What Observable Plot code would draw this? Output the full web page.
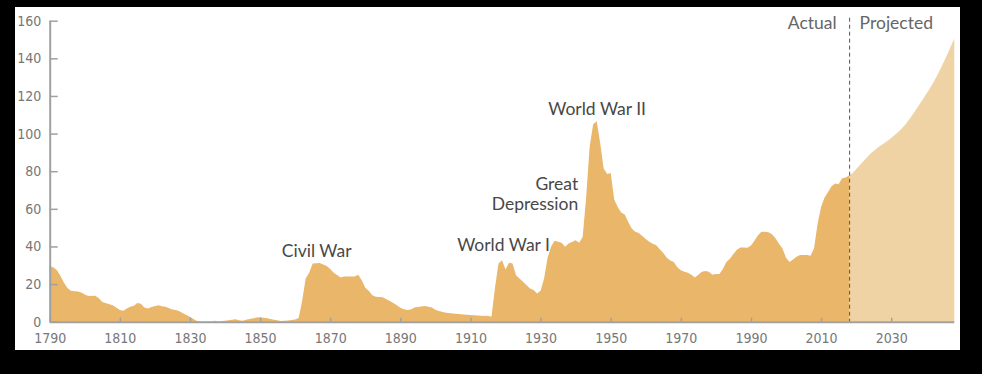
<!DOCTYPE html>
<html>
<head>
<meta charset="utf-8">
<script src="https://cdn.jsdelivr.net/npm/d3@7"></script>
<script src="https://cdn.jsdelivr.net/npm/@observablehq/plot@0.6"></script>
<style>
  html, body { margin: 0; padding: 0; background: #000; }
  #panel { position: absolute; left: 15px; top: 7px; width: 945px; height: 343px; background: #fff; }
</style>
</head>
<body>
<div id="panel"></div>
<script>
// Federal debt held by the public, % of GDP
const actualYears = [1790,1791,1792,1793,1794,1795,1796,1798,1799,1800,1801,1803,1804,1805,1807,1808,1810,1811,1812,1813,1814,1815,1816,1817,1818,1819,1821,1822,1823,1825,1826,1827,1828,1829,1830,1831,1832,1833,1836,1837,1838,1840,1842,1843,1844,1845,1846,1847,1849,1850,1851,1852,1854,1856,1858,1860,1861,1862,1863,1864,1865,1867,1869,1870,1871,1873,1874,1877,1878,1879,1880,1881,1882,1883,1885,1886,1887,1888,1889,1890,1891,1892,1893,1894,1895,1897,1898,1899,1900,1901,1903,1905,1908,1910,1912,1914,1915,1916,1917,1918,1919,1920,1921,1922,1923,1925,1927,1928,1929,1930,1931,1932,1933,1934,1935,1936,1937,1938,1940,1941,1942,1943,1944,1945,1946,1947,1948,1949,1950,1951,1952,1953,1954,1955,1956,1957,1958,1959,1960,1961,1962,1963,1964,1965,1966,1967,1968,1969,1970,1971,1972,1973,1974,1975,1976,1977,1978,1979,1980,1981,1982,1983,1984,1985,1986,1987,1988,1989,1990,1991,1992,1993,1994,1995,1996,1997,1998,1999,2000,2001,2002,2003,2004,2005,2006,2007,2008,2009,2010,2011,2012,2013,2014,2015,2016,2017,2018];
const actualValues = [29.5,29,27.5,24.5,21,18,16.4,16,15.5,14.5,13.6,13.8,12.5,10.5,9.3,8.8,6.2,5.8,7,8,8.5,10,9.5,7.5,7,7.8,8.8,8.2,8,6.5,6.2,5.5,4.5,3.5,2.6,1.5,0.4,0.1,0.1,0.5,0.2,0.5,1,1.3,0.8,0.5,1,1.5,2.2,2.3,2.1,1.8,1.0,0.4,0.6,1.2,2,11,23,26,31,31.2,29.6,28,26,23.5,24,24,25,22,18,16.5,14,13.2,13,12,11,10,8.7,7.4,6.6,6.2,6.5,7.6,7.8,8.3,8,7.5,6.3,5.7,4.8,4.3,3.8,3.6,3.3,3,3.1,2.6,18,31,32.7,27.8,31.3,31,24.7,21.2,17.7,16.8,15,16.5,23,34,40,43,42.5,42,39.8,41.6,43.3,42,45,66,93,105,106.5,95,81.5,78.5,79,65,61,58,57,53,49.5,47.8,47.2,45.5,44,42.5,41.5,40.7,38.5,36.5,34,32.5,31.8,29,27.4,26.5,26,25,23.5,25,26.5,27,26.5,25,25.3,25.3,28,31.8,33.5,36,38.2,39.5,39.5,39.3,40.5,43,46,47.8,47.8,47.5,46.5,44.3,41.5,38.9,34,31.8,33,34.5,35.4,35.5,35.4,35,39,52,61,66,69,72,73.5,73,76.2,76.7,77.7];

const projectedYears = [2018,2019,2020,2021,2022,2023,2024,2025,2026,2027,2028,2029,2030,2031,2032,2033,2034,2035,2036,2037,2038,2039,2040,2041,2042,2043,2044,2045,2046,2047,2048];
const projectedValues = [77.7,79,81,83.2,85.2,87.1,89.2,90.8,92.3,93.6,94.8,96.2,97.7,99.2,100.9,102.7,104.7,107.2,109.8,112.5,115.3,118.1,121,124,127,130.5,134.2,138,142.1,146.3,150.6];

const xTicks = [1790,1810,1830,1850,1870,1890,1910,1930,1950,1970,1990,2010,2030];
const yTicks = [0,20,40,60,80,100,120,140,160];

// centred event labels
const noteText = ["Civil War","World War I","World War II"];
const noteYear = [1866,1919.3,1946];
const noteValue = [34.7,37.7,110.3];
// right-aligned event label
const depressionText = "Great\nDepression";
const depressionYear = 1940.6;
const depressionValue = 59.8;

const dividerYear = 2018;
const dividerLabels = ["Actual","Projected"];
const dividerLabelValue = 155.8;

const actual = actualYears.map((year, i) => ({year, value: actualValues[i]}));
const projected = projectedYears.map((year, i) => ({year, value: projectedValues[i]}));
const notes = noteText.map((text, i) => ({text, year: noteYear[i], value: noteValue[i]}));

const tickFont = "'Liberation Sans Narrow', 'DejaVu Sans Condensed', sans-serif";
const noteFont = "Lato, 'Open Sans', sans-serif";

const chart = Plot.plot({
  width: 945,
  height: 343,
  marginLeft: 34.7,
  marginRight: 5.7,
  marginTop: 13.7,
  marginBottom: 28.3,
  style: {background: "transparent", fontFamily: tickFont, fontSize: "14px", color: "#777"},
  x: {domain: [1790, 2048], axis: null},
  y: {domain: [0, 160], axis: null},
  marks: [
    Plot.areaY(actual, {x: "year", y: "value", fill: "#E9B66A"}),
    Plot.areaY(projected, {x: "year", y: "value", fill: "#F0D3A4"}),
    Plot.ruleX([dividerYear], {stroke: "#555", strokeWidth: 1, strokeDasharray: "4,3", insetTop: -3}),
    // axis lines
    Plot.ruleY([0], {stroke: "#a0a0a0", strokeWidth: 2}),
    Plot.ruleX([1790], {stroke: "#a0a0a0", strokeWidth: 2}),
    // ticks pointing inward
    Plot.axisX({ticks: xTicks, tickSize: -4, text: null, label: null, stroke: "#a0a0a0", strokeWidth: 1.5}),
    Plot.axisX({ticks: xTicks, tickSize: 0, tickPadding: 10.5, label: null, tickFormat: d => String(d), fill: "#777", fontSize: 14, fontFamily: tickFont}),
    Plot.axisY({ticks: yTicks, tickSize: -8, text: null, label: null, stroke: "#a0a0a0", strokeWidth: 1.5}),
    Plot.axisY({ticks: yTicks, tickSize: 0, tickPadding: 9, label: null, tickFormat: d => String(d), fill: "#777", fontSize: 14, fontFamily: tickFont}),
    // annotations
    Plot.text(notes, {x: "year", y: "value", text: "text", textAnchor: "middle", lineAnchor: "bottom", fill: "#484848", fontSize: 17.5, fontFamily: noteFont}),
    Plot.text([depressionText], {x: () => depressionYear, y: () => depressionValue, text: d => d, textAnchor: "end", lineAnchor: "bottom", lineHeight: 1.14, fill: "#484848", fontSize: 17.5, fontFamily: noteFont}),
    Plot.text([dividerLabels[0]], {x: () => dividerYear, y: () => dividerLabelValue, text: d => d, textAnchor: "end", lineAnchor: "bottom", dx: -13, fill: "#666", fontSize: 17.5, fontFamily: noteFont}),
    Plot.text([dividerLabels[1]], {x: () => dividerYear, y: () => dividerLabelValue, text: d => d, textAnchor: "start", lineAnchor: "bottom", dx: 10, fill: "#666", fontSize: 17.5, fontFamily: noteFont})
  ]
});
document.getElementById("panel").appendChild(chart);
</script>
</body>
</html>
